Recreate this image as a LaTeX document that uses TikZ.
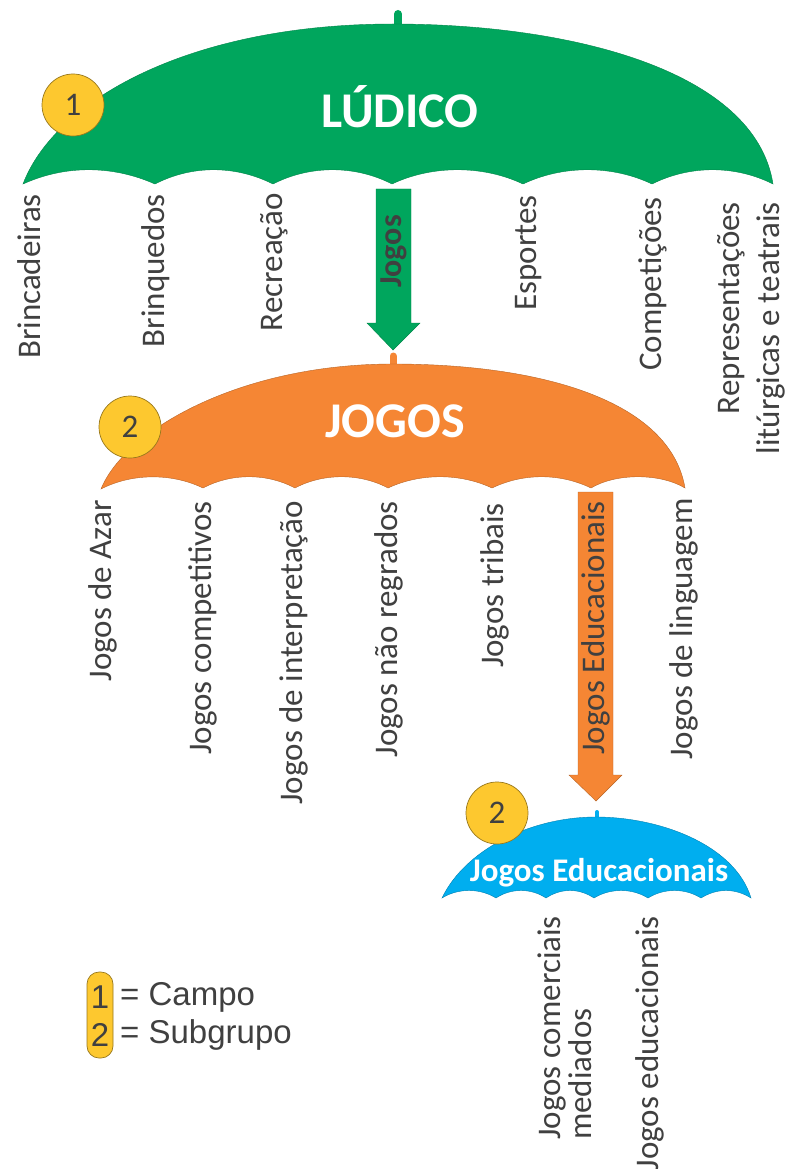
\documentclass[tikz,border=0pt]{standalone}
\usepackage{fontspec}
\setmainfont{Carlito}
\newfontfamily\arialf{Liberation Sans}
\definecolor{ugreen}{HTML}{00A65D}
\definecolor{uorange}{HTML}{F58634}
\definecolor{ublue}{HTML}{00AEEF}
\definecolor{uyellow}{HTML}{FDC82F}
\definecolor{txt}{HTML}{404040}
\tikzset{
  x=1pt,y=-1pt,
  lab/.style={rotate=90,anchor=east,text=txt,font=\fontsize{33}{40}\selectfont,inner sep=0pt,align=right},
  badge/.style={circle,draw=uyellow!60!black,fill=uyellow,minimum size=62pt,inner sep=0pt,line width=0.7pt,text=txt,font=\fontsize{33}{35}\selectfont},
  title/.style={text=white,font=\bfseries\fontsize{50}{54}\selectfont,inner sep=0pt},
  legendtxt/.style={text=txt,font=\arialf\fontsize{33}{35}\selectfont,inner sep=0pt},
}
\begin{document}
\begin{tikzpicture}
\useasboundingbox (0,0) rectangle (786,1169);
% green umbrella
\draw[ugreen,line width=8pt,line cap=round] (398,14) -- (398,28);
\path[fill=ugreen,draw=ugreen!80!black,line width=0.4pt]
 (23,184) .. controls (55,100) and (190,24) .. (393,24)
 .. controls (570,24) and (755,70) .. (773,184)
 .. controls (735,165) and (690,165) .. (652,184)
 .. controls (612,165) and (563,165) .. (523,184)
 .. controls (483,165) and (432,165) .. (392,184)
 .. controls (355,165) and (310,165) .. (273,184)
 .. controls (235,165) and (192,165) .. (155,184)
 .. controls (112,165) and (65,165) .. (23,184) -- cycle;
\node[badge] (b1) at (73,105) {1};
\node[title] (t1) at (400,107) {LÚDICO};
\node[lab] (l1) at (29,194) {Brincadeiras};
\node[lab] (l2) at (156,194) {Brinquedos};
\node[lab] (l3) at (274,193) {Recreação};
\node[lab] (l4) at (529,195) {Esportes};
\node[lab] (l5) at (653,197) {Competições};
\node[lab] (l6) at (751,202) {Representações\\litúrgicas e teatrais};
% arrow 1
\path[fill=ugreen,draw=ugreen!80!black,line width=0.4pt] (376,189) -- (411,189) -- (411,323) -- (420,323) -- (393,350) -- (367,323) -- (376,323) -- cycle;
\node[rotate=90,anchor=east,text=txt,font=\bfseries\fontsize{32}{34}\selectfont,inner sep=0pt] (a1) at (394,215) {Jogos};
% orange umbrella
\draw[uorange,line width=7pt,line cap=round] (393,356) -- (393,368);
\path[fill=uorange,draw=uorange!75!black,line width=0.4pt]
 (101,489) .. controls (125,430) and (240,364) .. (393,364)
 .. controls (540,364) and (670,400) .. (685,488)
 .. controls (660,473) and (616,473) .. (591,488)
 .. controls (560,473) and (523,473) .. (492,488)
 .. controls (460,473) and (420,473) .. (388,488)
 .. controls (360,473) and (323,473) .. (295,488)
 .. controls (267,473) and (231,473) .. (203,488)
 .. controls (172,473) and (132,473) .. (101,489) -- cycle;
\node[badge] (b2) at (130,427) {2};
\node[title] (t2) at (395,421) {JOGOS};
\node[lab] (m1) at (103,500) {Jogos de Azar};
\node[lab] (m2) at (203,501) {Jogos competitivos};
\node[lab] (m3) at (294,501) {Jogos de interpretação};
\node[lab] (m4) at (389,501) {Jogos não regrados};
\node[lab] (m5) at (495,503) {Jogos tribais};
\node[lab] (m7) at (684,498) {Jogos de linguagem};
% arrow 2
\path[fill=uorange,draw=uorange!75!black,line width=0.4pt] (578,492) -- (613,492) -- (613,775) -- (622,775) -- (596,801) -- (569,775) -- (578,775) -- cycle;
\node[rotate=90,anchor=east,text=txt,font=\fontsize{33}{35}\selectfont,inner sep=0pt] (a2) at (596,501) {Jogos Educacionais};
% blue umbrella
\draw[ublue,line width=4pt,line cap=round] (597,812) -- (597,820);
\path[fill=ublue,draw=ublue!75!black,line width=0.4pt]
 (442,898) .. controls (465,850) and (530,817) .. (596,817)
 .. controls (660,817) and (735,845) .. (751,898)
 .. controls (735,888) and (717,888) .. (701,898)
 .. controls (685,888) and (664,888) .. (648,898)
 .. controls (632,888) and (610,888) .. (594,898)
 .. controls (579,888) and (561,888) .. (546,898)
 .. controls (531,888) and (511,888) .. (496,898)
 .. controls (480,888) and (458,888) .. (442,898) -- cycle;
\node[badge] (b3) at (497,813) {2};
\node[text=white,font=\bfseries\fontsize{33}{35}\selectfont,inner sep=0pt] (t3) at (599,873) {Jogos Educacionais};
\node[lab,anchor=west,align=left,font=\fontsize{33}{31}\selectfont] (n1) at (565,1140) {Jogos comerciais\\mediados};
\node[lab] (n2) at (650,916) {Jogos educacionais};
% legend
\node[draw=uyellow!60!black,fill=uyellow,rounded corners=12pt,line width=0.7pt,minimum width=26pt,minimum height=86pt,inner sep=0pt] (k) at (100,1015) {};
\node[legendtxt] (k1) at (100,997) {1};
\node[legendtxt] (k2) at (100,1035) {2};
\node[legendtxt,anchor=west] (c1) at (120,997) {= Campo};
\node[legendtxt,anchor=west] (c2) at (120,1035) {= Subgrupo};
\end{tikzpicture}
\end{document}
